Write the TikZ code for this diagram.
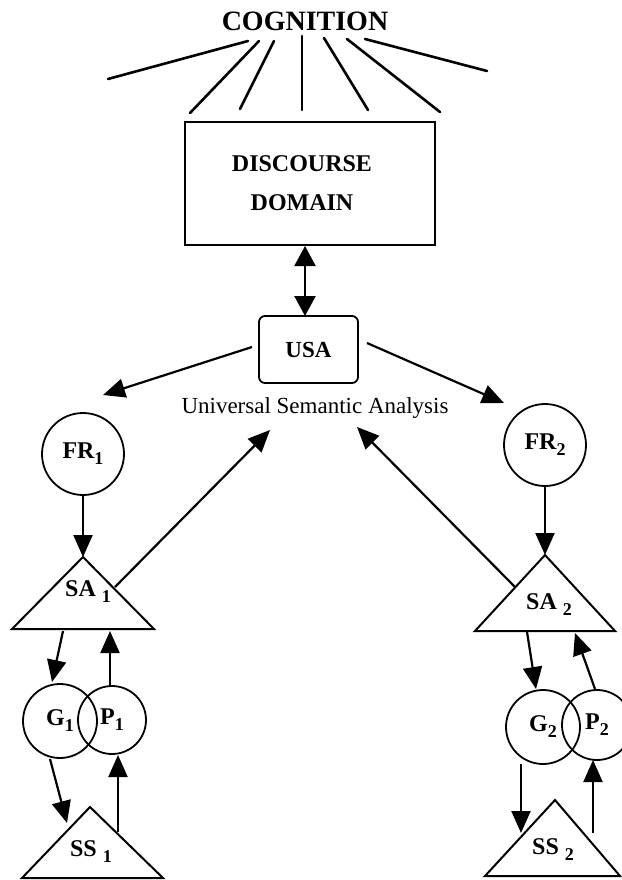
\documentclass[tikz,border=0pt]{standalone}
\usepackage{fontspec}
\setmainfont{Liberation Serif}
\usetikzlibrary{arrows.meta}
\newcommand\sbs[1]{\raisebox{-6pt}{\fontsize{18}{18}\selectfont #1}}
\begin{document}
\begin{tikzpicture}[x=1pt,y=-1pt,
  lbl/.style={font=\fontsize{24}{39}\selectfont\bfseries, inner sep=0},
  conn/.style={line width=2.2pt, -{Triangle[length=22pt,width=19pt]}},
  ray/.style={line width=2.6pt, line cap=round},
  circ/.style={draw, circle, line width=1.8pt, inner sep=0},
  tri/.style={line width=2pt, line join=miter},
  boxframe/.style={draw, line width=1.8pt, inner sep=0}
]
\useasboundingbox[fill=white] (0,0) rectangle (621,880);

% COGNITION and rays
\node[lbl, font=\fontsize{28}{30}\selectfont\bfseries] (cog) at (305,21) {COGNITION};
\foreach \i/\ax/\ay/\bx/\by in {1/248/41/108/79, 2/259/41/190/113, 3/274/41/240/109,
  4/302/36/302/110, 5/324/38/368/110, 6/347/39/440/112, 7/365/39/487/71}{
  \coordinate (ct\i) at (\ax,\ay);
  \coordinate (cb\i) at (\bx,\by);
  \draw[ray] (ct\i) -- (cb\i);
}

% Discourse domain
\node[boxframe, minimum width=250pt, minimum height=123pt] (dd) at (310,183.5) {};
\node[lbl, align=center] (ddtext) at (302,183.5) {DISCOURSE\\DOMAIN};

% USA
\node[boxframe, rounded corners=6pt, minimum width=99pt, minimum height=67pt,
      font=\fontsize{23}{25}\selectfont\bfseries] (usa) at (308.5,349.5) {USA};
\node[anchor=base, font=\fontsize{23}{25}\selectfont, inner sep=0] (usatext) at (315,413) {Universal Semantic Analysis};

\coordinate (dda) at (305,246);
\coordinate (usaa) at (305,316);
\draw[line width=2.2pt, {Triangle[length=20pt,width=21pt]}-{Triangle[length=20pt,width=21pt]}] (dda) -- (usaa);

% FR circles
\node[circ, minimum size=82pt, lbl] (fr1) at (83,454) {FR\sbs{1}};
\node[circ, minimum size=82pt, lbl] (fr2) at (545,445) {FR\sbs{2}};

\coordinate (u1) at (252,347);
\coordinate (f1in) at (103,395);
\coordinate (u2) at (367,343);
\coordinate (f2in) at (504,403);
\draw[conn] (u1) -- (f1in);
\draw[conn] (u2) -- (f2in);

% SA triangles
\coordinate (sa1a) at (83,557);
\coordinate (sa1l) at (12,629);
\coordinate (sa1r) at (154,629);
\draw[tri] (sa1a) -- (sa1l) -- (sa1r) -- cycle;
\node[lbl] (sa1) at (88,592) {SA\hspace{6pt}\sbs{1}};

\coordinate (sa2a) at (545,555);
\coordinate (sa2l) at (475,631);
\coordinate (sa2r) at (615,631);
\draw[tri] (sa2a) -- (sa2l) -- (sa2r) -- cycle;
\node[lbl] (sa2) at (549,605) {SA\hspace{6pt}\sbs{2}};

\draw[conn] (fr1.south) -- (sa1a);
\draw[conn] (fr2.south) -- (sa2a);

\coordinate (sa1o) at (115,587);
\coordinate (ut1) at (270,430);
\coordinate (sa2o) at (515,587);
\coordinate (ut2) at (357,427);
\draw[conn] (sa1o) -- (ut1);
\draw[conn] (sa2o) -- (ut2);

% G/P circles
\node[circ, minimum size=74pt, lbl] (g1) at (60,721) {G\sbs{1}};
\node[circ, minimum size=68pt, lbl] (p1) at (112,720) {P\sbs{1}};
\node[circ, minimum size=74pt, lbl] (g2) at (543,727) {G\sbs{2}};
\node[circ, minimum size=70pt, lbl] (p2) at (597,725) {P\sbs{2}};

% SS triangles
\coordinate (ss1a) at (90,807);
\coordinate (ss1l) at (22,878);
\coordinate (ss1r) at (163,878);
\draw[tri] (ss1a) -- (ss1l) -- (ss1r) -- cycle;
\node[lbl] (ss1) at (91,852) {SS\hspace{6pt}\sbs{1}};

\coordinate (ss2a) at (555,800);
\coordinate (ss2l) at (485,876);
\coordinate (ss2r) at (620,876);
\draw[tri] (ss2a) -- (ss2l) -- (ss2r) -- cycle;
\node[lbl] (ss2) at (553,850) {SS\hspace{6pt}\sbs{2}};

% left loop arrows
\coordinate (a1s) at (63,631);  \coordinate (a1e) at (52,682);
\coordinate (a2s) at (110,686); \coordinate (a2e) at (110,631);
\coordinate (a3s) at (50,759);  \coordinate (a3e) at (67,823);
\coordinate (a4s) at (118,832); \coordinate (a4e) at (118,755);
\draw[conn] (a1s) -- (a1e);
\draw[conn] (a2s) -- (a2e);
\draw[conn] (a3s) -- (a3e);
\draw[conn] (a4s) -- (a4e);

% right loop arrows
\coordinate (b1s) at (527,632); \coordinate (b1e) at (536,689);
\coordinate (b2s) at (595,689); \coordinate (b2e) at (575,633);
\coordinate (b3s) at (521,764); \coordinate (b3e) at (521,833);
\coordinate (b4s) at (593,833); \coordinate (b4e) at (593,760);
\draw[conn] (b1s) -- (b1e);
\draw[conn] (b2s) -- (b2e);
\draw[conn] (b3s) -- (b3e);
\draw[conn] (b4s) -- (b4e);
\end{tikzpicture}
\end{document}
